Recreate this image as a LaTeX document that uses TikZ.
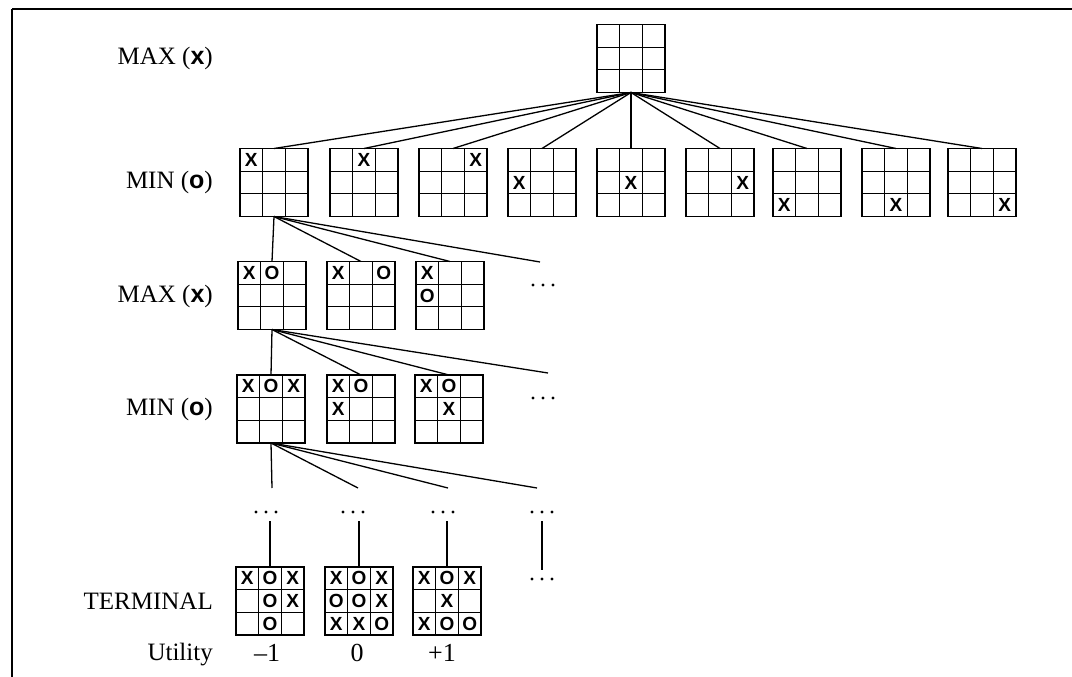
\documentclass[tikz,border=0pt]{standalone}
\usepackage{fontspec}
\setmainfont{Liberation Serif}
\newfontfamily\mksf{Liberation Sans}
\usetikzlibrary{calc}
\tikzset{
  board/.style={draw, line width=1.6pt, minimum width=68pt, minimum height=68pt, inner sep=0pt, outer sep=0pt},
  gridl/.style={line width=1.3pt},
  mk/.style={font=\mksf\bfseries\fontsize{19}{19}\selectfont, inner sep=0pt},
  lvl/.style={anchor=east, font=\fontsize{25}{25}\selectfont, inner sep=0pt},
  util/.style={font=\fontsize{26}{26}\selectfont, inner sep=0pt},
  edge/.style={line width=1.3pt},
  frame/.style={line width=1.2pt},
  dotsn/.style={minimum width=28pt, minimum height=18pt, inner sep=0pt, outer sep=0pt,
    path picture={\foreach \i in {-10,0,10} \fill ([xshift=\i pt]path picture bounding box.center) circle (1.7pt);}}
}
\newcommand\bd[3]{%
  \node[board] (#1) at (#2) {};
  \begin{scope}[shift={(#1.center)}]
    \draw[gridl] (-11.33,-34) -- (-11.33,34) (11.33,-34) -- (11.33,34)
                 (-34,-11.33) -- (34,-11.33) (-34,11.33) -- (34,11.33);
    \def\mkl{#3}%
    \ifx\mkl\empty\else
      \foreach \c/\r/\m in {#3} {\node[mk] at ({(\c-2)*22.67},{(\r-2)*22.67}) {\m};}
    \fi
  \end{scope}
}
\begin{document}
\begin{tikzpicture}[x=1pt,y=-1pt]
\useasboundingbox (0,0) rectangle (1072,677);
% frame
\draw[frame] (12,9) -- (1072,9);
\draw[frame] (12,9) -- (12,677);
% level labels
\node[lvl] (l1) at (213,58) {MAX ({\mksf\bfseries x})};
\node[lvl] (l2) at (213,182) {MIN ({\mksf\bfseries o})};
\node[lvl] (l3) at (213,296) {MAX ({\mksf\bfseries x})};
\node[lvl] (l4) at (213,409) {MIN ({\mksf\bfseries o})};
\node[lvl] (l5) at (213,601) {TERMINAL};
\node[lvl] (l6) at (213,655) {Utility};
% root
\bd{r}{631,58.5}{}
% MIN row
\bd{a1}{274,182.5}{1/1/X}
\bd{a2}{364,182.5}{2/1/X}
\bd{a3}{453,182.5}{3/1/X}
\bd{a4}{542,182.5}{1/2/X}
\bd{a5}{631,182.5}{2/2/X}
\bd{a6}{720,182.5}{3/2/X}
\bd{a7}{807,182.5}{1/3/X}
\bd{a8}{896,182.5}{2/3/X}
\bd{a9}{982,182.5}{3/3/X}
% MAX row
\bd{b1}{272,295.5}{1/1/X,2/1/O}
\bd{b2}{361,295.5}{1/1/X,3/1/O}
\bd{b3}{450,295.5}{1/1/X,1/2/O}
\node[dotsn] (db) at (543,285) {};
\coordinate (cb) at (540,262);
% MIN row 2
\bd{c1}{271,409}{1/1/X,2/1/O,3/1/X}
\bd{c2}{361,409}{1/1/X,2/1/O,1/2/X}
\bd{c3}{449,409}{1/1/X,2/1/O,2/2/X}
\node[dotsn] (dc) at (543,398) {};
\coordinate (cc) at (548,373);
% dots row
\coordinate (e1) at (272,488);
\coordinate (e2) at (358,488);
\coordinate (e3) at (448,488);
\coordinate (e4) at (537,488);
\node[dotsn] (d1) at (266,512) {};
\node[dotsn] (d2) at (353,512) {};
\node[dotsn] (d3) at (443,512) {};
\node[dotsn] (d4) at (542,512) {};
\node[dotsn] (d5) at (542,579) {};
% terminal row
\bd{t1}{270,601}{1/1/X,2/1/O,3/1/X,2/2/O,3/2/X,2/3/O}
\bd{t2}{359,601}{1/1/X,2/1/O,3/1/X,1/2/O,2/2/O,3/2/X,1/3/X,2/3/X,3/3/O}
\bd{t3}{447,601}{1/1/X,2/1/O,3/1/X,2/2/X,1/3/X,2/3/O,3/3/O}
% utilities
\node[util] (u1) at (267,653) {–1};
\node[util] (u2) at (357,653) {0};
\node[util] (u3) at (442,653) {+1};
% edges
\foreach \i in {1,...,9} \draw[edge] (r.south) -- (a\i.north);
\foreach \t in {b1.north,b2.north,b3.north,cb} \draw[edge] (a1.south) -- (\t);
\foreach \t in {c1.north,c2.north,c3.north,cc} \draw[edge] (b1.south) -- (\t);
\foreach \t in {e1,e2,e3,e4} \draw[edge] (c1.south) -- (\t);
\draw[edge] (t1.north |- d1.south) -- (t1.north);
\draw[edge] (t2.north |- d2.south) -- (t2.north);
\draw[edge] (t3.north |- d3.south) -- (t3.north);
\draw[edge] (d4.south) -- (d5.north);
\end{tikzpicture}
\end{document}
